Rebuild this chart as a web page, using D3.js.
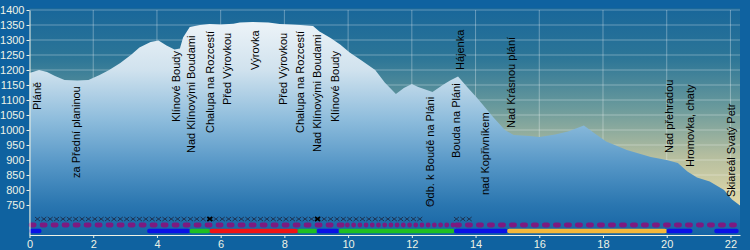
<!DOCTYPE html>
<html>
<head>
<meta charset="utf-8">
<script src="https://cdn.jsdelivr.net/npm/d3@7.9.0/dist/d3.min.js"></script>
<style>
html, body { margin: 0; padding: 0; background: #0f62a0; }
svg { display: block; font-family: "Liberation Sans", Arial, sans-serif; }
</style>
</head>
<body>
<svg width="750" height="250"></svg>
<script>
// elevation profile (km, m)
const dist = [0, 0.3, 0.55, 0.8, 1.1, 1.5, 1.85, 2.2, 2.5, 2.85, 3.2, 3.45, 3.8, 4.05, 4.3, 4.55, 4.72, 4.82,
  5.03, 5.35, 5.65, 6.0, 6.4, 6.6, 7.0, 7.5, 7.85, 8.2, 8.5, 8.9, 9.1, 9.45, 9.75, 10.05, 10.4, 10.85,
  11.15, 11.5, 11.75, 12.0, 12.2, 12.65, 12.97, 13.2, 13.45, 13.75, 14.05, 14.55, 14.92, 15.2, 15.7,
  16.0, 16.5, 16.9, 17.4, 17.7, 18.1, 18.75, 19.5, 20.0, 20.35, 20.65, 20.95, 21.35, 21.8, 22.05, 22.3];
const elev = [1190, 1200, 1193, 1180, 1167, 1165, 1167, 1183, 1200, 1223, 1252, 1275, 1293, 1298, 1282, 1268, 1272, 1308,
  1343, 1350, 1353, 1352, 1354, 1358, 1360, 1358, 1353, 1352, 1350, 1347, 1328, 1307, 1285, 1258, 1233, 1200,
  1158, 1120, 1140, 1153, 1143, 1127, 1150, 1165, 1178, 1142, 1107, 1043, 1000, 983, 980,
  977, 985, 995, 1015, 992, 962, 933, 910, 900, 890, 862, 842, 828, 800, 768, 748];

// waypoints
const waypointKm = [0.35, 1.57, 4.71, 5.21, 5.78, 6.34, 7.19, 8.07, 8.61, 9.14, 9.7,
  12.69, 13.5, 13.63, 14.42, 15.23, 20.2, 20.85, 22.14];
const waypointName = ['Pláně', 'za Přední planinou', 'Klínové Boudy', 'Nad Klínovými Boudami', 'Chalupa na Rozcestí',
  'Před Výrovkou', 'Výrovka', 'Před Výrovkou', 'Chalupa na Rozcestí', 'Nad Klínovými Boudami', 'Klínové Boudy',
  'Odb. k Boudě na Pláni', 'Bouda na Pláni', 'Hájenka', 'nad Kopřivníkem', 'Nad Krásnou plání',
  'Nad přehradou', 'Hromovka, chaty', 'Skiareál Svatý Petr'];

// track rows
const crossRuns = [[0.25, 12.4], [13.4, 13.8]];
const crossBold = [5.66, 9.04];
const pathDashed = [[0, 9.9], [13.35, 22.3]];
const pathDotted = [[9.9, 13.35]];
const markFrom = [0, 3.7, 5.03, 5.66, 8.42, 9.02, 9.71, 13.33, 15.0, 20.0, 21.5];
const markTo = [0.37, 5.03, 5.66, 8.42, 9.02, 9.71, 13.33, 15.0, 20.0, 20.8, 22.25];
const markColor = ['modrá', 'modrá', 'zelená', 'červená', 'zelená', 'modrá', 'zelená', 'modrá', 'žlutá', 'modrá', 'modrá'];
const pointKm = [12.6];

const xTicks = d3.range(0, 23, 2);
const yTicks = d3.range(750, 1401, 50);

// layout of label start (pixel y of text start), not data
const labelY = [110, 178, 122, 153, 133, 105, 70, 105, 133, 152, 122, 207, 158, 70, 195, 128, 153, 167, 197];

const W = 750, H = 250;
const pLeft = 29.5, pRight = 740, pTop = 10, pBottom = 235;

const x = d3.scaleLinear().domain([0, 22.3]).range([pLeft, pRight]);
const y = d3.scaleLinear().domain([650, 1400]).range([pBottom, pTop]);

const svg = d3.select('svg');
const defs = svg.append('defs');

const sky = defs.append('linearGradient').attr('id', 'sky')
  .attr('gradientUnits', 'userSpaceOnUse').attr('x1', 0).attr('x2', 0).attr('y1', pTop).attr('y2', 205);
[[0, '#19679a'], [0.25, '#2d7697'], [0.5, '#6a9a9c'], [0.75, '#b5be9f'], [1, '#e2d9a9']]
  .forEach(([o, c]) => sky.append('stop').attr('offset', o).attr('stop-color', c));

const hill = defs.append('linearGradient').attr('id', 'hill')
  .attr('gradientUnits', 'userSpaceOnUse').attr('x1', 0).attr('x2', 0).attr('y1', 20).attr('y2', pBottom);
[[0, '#eef4f8'], [0.233, '#d0e2ee'], [0.465, '#8dbcdc'], [0.674, '#5596c6'], [0.86, '#2a76b0'], [1, '#1564a4']]
  .forEach(([o, c]) => hill.append('stop').attr('offset', o).attr('stop-color', c));

svg.append('rect').attr('width', W).attr('height', H).attr('fill', '#0f62a0');
svg.append('rect').attr('x', pLeft).attr('y', 8).attr('width', pRight - pLeft).attr('height', pBottom - 8)
  .attr('fill', 'url(#sky)');

// grid
svg.append('g').selectAll('line').data(yTicks).join('line')
  .attr('x1', pLeft).attr('x2', pRight).attr('y1', d => y(d)).attr('y2', d => y(d))
  .attr('stroke', 'rgba(255,255,255,0.32)');
svg.append('g').selectAll('line').data(xTicks.slice(1)).join('line')
  .attr('x1', d => x(d)).attr('x2', d => x(d)).attr('y1', pTop).attr('y2', pBottom)
  .attr('stroke', 'rgba(255,255,255,0.32)');

// profile
const profile = dist.map((d, i) => ({ km: d, e: elev[i] }));
svg.append('path').datum(profile)
  .attr('fill', 'url(#hill)')
  .attr('d', d3.area().x(d => x(d.km)).y0(pBottom).y1(d => y(d.e)));

// labels
svg.append('g').selectAll('text').data(waypointName).join('text')
  .attr('transform', (d, i) => `translate(${x(waypointKm[i])},${labelY[i]}) rotate(-90)`)
  .attr('font-size', 11).attr('fill', '#000')
  .text(d => d);

// cross marks
const crossY = 219;
const crosses = [];
crossRuns.forEach(([a, b]) => d3.range(a, b + 0.001, 0.2).forEach(k => crosses.push(k)));
const crossPath = k => {
  const cx = x(k);
  return `M${cx - 2.5},${crossY - 2}L${cx + 2.5},${crossY + 2}M${cx - 2.5},${crossY + 2}L${cx + 2.5},${crossY - 2}`;
};
svg.append('g').selectAll('path').data(crosses).join('path')
  .attr('d', crossPath).attr('stroke', '#1d2c48').attr('stroke-width', 0.9).attr('fill', 'none');
svg.append('g').selectAll('path').data(crossBold).join('path')
  .attr('d', crossPath).attr('stroke', '#000').attr('stroke-width', 1.8).attr('fill', 'none');

// path type row
const purple = '#7d1a80';
svg.append('g').selectAll('line').data(pathDashed).join('line')
  .attr('x1', d => x(d[0]) + 1.5).attr('x2', d => x(d[1])).attr('y1', 225).attr('y2', 225)
  .attr('stroke', purple).attr('stroke-width', 4.8).attr('stroke-linecap', 'round')
  .attr('stroke-dasharray', '3.2,7.8');
svg.append('g').selectAll('line').data(pathDotted).join('line')
  .attr('x1', d => x(d[0]) + 2.5).attr('x2', d => x(d[1])).attr('y1', 225).attr('y2', 225)
  .attr('stroke', purple).attr('stroke-width', 4.8).attr('stroke-linecap', 'round')
  .attr('stroke-dasharray', '0.01,6.2');

// trail colours row
const colorOf = { 'modrá': '#0a12e6', 'zelená': '#1fbf22', 'červená': '#f01414', 'žlutá': '#f5b83a' };
svg.append('g').selectAll('line').data(markFrom).join('line')
  .attr('x1', d => x(d) + 2).attr('x2', (d, i) => x(markTo[i]) - 2).attr('y1', 231).attr('y2', 231)
  .attr('stroke', (d, i) => colorOf[markColor[i]]).attr('stroke-width', 4.6).attr('stroke-linecap', 'round');

// point marker
svg.append('g').selectAll('circle').data(pointKm).join('circle')
  .attr('cx', d => x(d)).attr('cy', 203).attr('r', 2.6)
  .attr('fill', 'none').attr('stroke', '#1d2c48').attr('stroke-width', 0.9);

// axes
const axisColor = '#eef2e6';
const gy = svg.append('g').attr('transform', `translate(${pLeft},0)`)
  .call(d3.axisLeft(y).tickValues(yTicks).tickSize(3).tickSizeOuter(0).tickPadding(2).tickFormat(d3.format('d')));
const gx = svg.append('g').attr('transform', `translate(0,${pBottom})`)
  .call(d3.axisBottom(x).tickValues(xTicks).tickSize(3).tickSizeOuter(0).tickPadding(3).tickFormat(d3.format('d')));
[gy, gx].forEach(g => {
  g.select('.domain').attr('stroke', axisColor);
  g.selectAll('.tick line').attr('stroke', axisColor);
  g.selectAll('.tick text').attr('fill', axisColor).attr('font-size', 11)
    .attr('font-family', '"Liberation Sans", Arial, sans-serif');
});
gx.selectAll('.tick text').attr('dy', '0.62em');
</script>
</body>
</html>
